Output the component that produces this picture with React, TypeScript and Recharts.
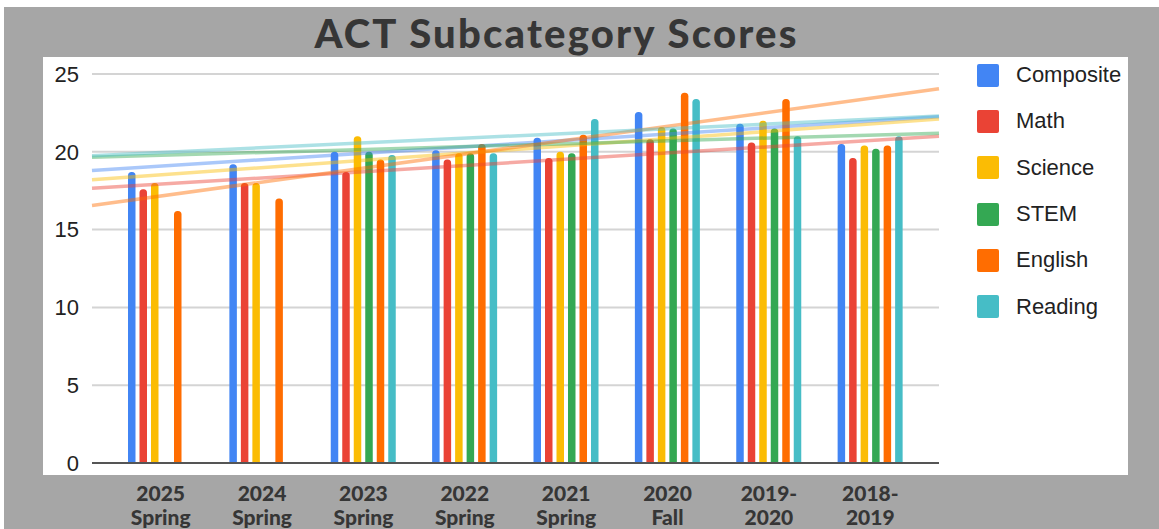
import React from 'react';
import {
  ComposedChart,
  Bar,
  XAxis,
  YAxis,
  CartesianGrid,
  ReferenceLine,
  Legend
} from 'recharts';

const terms = [
  '2025\nSpring',
  '2024\nSpring',
  '2023\nSpring',
  '2022\nSpring',
  '2021\nSpring',
  '2020\nFall',
  '2019-\n2020',
  '2018-\n2019'
];

const composite = [18.7, 19.2, 20.0, 20.1, 20.9, 22.55, 21.8, 20.5];
const math = [17.6, 18.0, 18.7, 19.5, 19.6, 20.8, 20.6, 19.6];
const science = [18.0, 18.0, 21.0, 19.9, 20.0, 21.6, 22.0, 20.4];
const stem = [null, null, 20.0, 19.9, 19.9, 21.5, 21.5, 20.2];
const english = [16.2, 17.0, 19.5, 20.5, 21.1, 23.8, 23.4, 20.4];
const reading = [null, null, 19.8, 19.9, 22.1, 23.4, 21.0, 21.0];

// trendline values at the left and right edge of the plot
const trendStart = [18.8, 17.65, 18.2, 19.65, 16.55, 19.75];
const trendEnd = [22.25, 21.0, 22.1, 21.2, 24.05, 22.3];

const seriesNames = ['Composite', 'Math', 'Science', 'STEM', 'English', 'Reading'];
const colors = ['#4285f4', '#ea4335', '#fbbc04', '#34a853', '#ff6d01', '#46bdc6'];
const yTicks = [0, 5, 10, 15, 20, 25];

const seriesValues = [composite, math, science, stem, english, reading];

const data = terms.map((term, i) => {
  const row: Record<string, any> = { term };
  seriesNames.forEach((name, s) => {
    row[name] = seriesValues[s][i];
  });
  return row;
});

// hidden numeric axis spanning the whole plot, used for the trendlines
const trendLeft = 0;
const trendRight = terms.length - 1;

const TermTick = ({ x, y, payload }: any) => {
  const [top, bottom] = String(payload.value).split('\n');
  return (
    <text
      x={x}
      y={y}
      textAnchor="middle"
      fill="#363636"
      fontFamily="Lato"
      fontWeight={900}
      fontSize={21}
    >
      <tspan x={x} dy={38}>{top}</tspan>
      <tspan x={x} dy={24}>{bottom}</tspan>
    </text>
  );
};

const SideLegend = ({ payload }: any) => {
  const items = [...(payload || [])].sort(
    (a: any, b: any) => seriesNames.indexOf(a.value) - seriesNames.indexOf(b.value)
  );
  return (
    <div>
      {items.map((item: any) => (
        <div
          key={item.value}
          style={{ display: 'flex', alignItems: 'center', height: 46.3 }}
        >
          <div
            style={{
              width: 22,
              height: 23,
              borderRadius: 2,
              background: item.color
            }}
          />
          <span
            style={{
              marginLeft: 17,
              fontFamily: '"Liberation Sans", Arial, sans-serif',
              fontSize: 22,
              color: '#222'
            }}
          >
            {item.value}
          </span>
        </div>
      ))}
    </div>
  );
};

export default function App() {
  return (
    <div
      style={{
        position: 'absolute',
        left: 0,
        top: 0,
        width: 1159,
        height: 529,
        background: '#fff',
        overflow: 'hidden'
      }}
    >
      <div style={{ position: 'absolute', left: 4, top: 7, right: 0, bottom: 0, background: '#a6a6a6' }} />
      <div style={{ position: 'absolute', left: 43, top: 57, width: 1085, height: 418, background: '#fff' }} />
      <div
        style={{
          position: 'absolute',
          left: 0,
          top: 13,
          width: 1113,
          textAlign: 'center',
          fontFamily: 'Lato',
          fontWeight: 900,
          fontSize: 40,
          letterSpacing: 2.2,
          lineHeight: 1,
          color: '#363636'
        }}
      >
        ACT Subcategory Scores
      </div>
      <div style={{ position: 'absolute', left: 0, top: 0 }}>
        <ComposedChart
          width={1159}
          height={529}
          data={data}
          margin={{ top: 74, right: 220, bottom: 6, left: 0 }}
          barGap={4}
        >
          <CartesianGrid vertical={false} stroke="#d4d4d4" strokeWidth={2} />
          <XAxis
            dataKey="term"
            interval={0}
            height={60}
            padding={{ left: 18, right: 18 }}
            tickLine={false}
            tickSize={0}
            tickMargin={0}
            axisLine={{ stroke: '#555', strokeWidth: 2 }}
            tick={<TermTick />}
          />
          <XAxis
            xAxisId="trend"
            type="number"
            domain={[trendLeft, trendRight]}
            allowDataOverflow
            hide
          />
          <YAxis
            domain={[0, 25]}
            ticks={yTicks}
            width={92}
            axisLine={false}
            tickLine={false}
            tickSize={0}
            tickMargin={13}
            tick={{ fill: '#222', fontSize: 22, fontFamily: '"Liberation Sans", Arial, sans-serif' }}
          />
          <Legend
            layout="vertical"
            align="center"
            verticalAlign="middle"
            content={<SideLegend />}
            wrapperStyle={{ left: 977, top: 52, width: 170 }}
          />
          {seriesNames.map((name, s) => (
            <Bar
              key={name}
              dataKey={name}
              fill={colors[s]}
              barSize={7.5}
              radius={[3.5, 3.5, 0, 0]}
              isAnimationActive={false}
            />
          ))}
          {seriesNames.map((name, s) => (
            <ReferenceLine
              key={'trend-' + name}
              xAxisId="trend"
              segment={[
                { x: trendLeft, y: trendStart[s] },
                { x: trendRight, y: trendEnd[s] }
              ]}
              stroke={colors[s]}
              strokeWidth={3.5}
              strokeOpacity={0.45}
              ifOverflow="visible"
            />
          ))}
        </ComposedChart>
      </div>
    </div>
  );
}
